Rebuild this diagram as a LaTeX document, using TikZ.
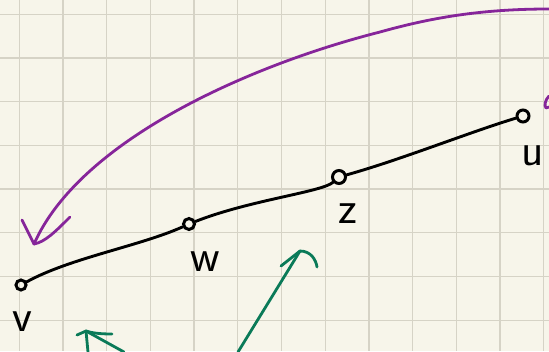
\documentclass[tikz,border=0pt]{standalone}
\usepackage{tikz}
\usetikzlibrary{calc,positioning}
\definecolor{paper}{HTML}{F7F5EA}
\definecolor{gridgray}{HTML}{D6D3C6}
\definecolor{penpurple}{HTML}{86259A}
\definecolor{pengreen}{HTML}{0A7A58}
\tikzset{
	gridline/.style={gridgray,line width=1.3pt},
	ink/.style={black,line width=2.9pt,line cap=round,line join=round},
	purpleink/.style={penpurple,line width=2.8pt,line cap=round,line join=round},
	greenink/.style={pengreen,line width=2.8pt,line cap=round,line join=round},
	vtx/.style={circle,draw=black,line width=3pt,inner sep=0pt,minimum size=11pt},
	vlabel/.style={font=\sffamily\fontsize{46}{46}\selectfont,inner sep=0pt}
}

\begin{document}
\begin{tikzpicture}[x=1pt,y=-1pt]
		
		% -------------------------------------------------
		% 1. Paper and grid
		% -------------------------------------------------
		\fill[paper] (0,0) rectangle (549,351);
		\useasboundingbox (0,0) rectangle (549,351);
		\foreach \gx in {0,...,12}
		\draw[gridline] (19.3+43.7*\gx,0) -- (19.3+43.7*\gx,351);
		\foreach \gy in {0,...,7}
		\draw[gridline] (0,14.3+43.7*\gy) -- (549,14.3+43.7*\gy);
		
		% -------------------------------------------------
		% 2. Vertices
		% -------------------------------------------------
		\node[vtx,minimum size=10pt] (v) at (21,285) {};
		\node[vtx] (w) at (189,224) {};
		\node[vtx,minimum size=13pt] (z) at (339,177) {};
		\node[vtx,minimum size=12pt] (u) at (523,116) {};
		
		\node[vlabel] (lv) at (22,322) {v};
		\node[vlabel] (lw) at (205,262) {w};
		\node[vlabel] (lz) at (348,214) {z};
		\node[vlabel] (lu) at (533,156) {u};
		
		% -------------------------------------------------
		% 3. Path v -- w -- z -- u
		% -------------------------------------------------
		\draw[ink] (v) .. controls (70,258) and (140,246) .. (w);
		\draw[ink] (w) .. controls (250,200) and (322,192) .. (z);
		\draw[ink] (z) .. controls (400,160) and (470,132) .. (u);
		
		% -------------------------------------------------
		% 4. Purple arrow
		% -------------------------------------------------
		\coordinate (ptop) at (549,9);
		\coordinate (ptip) at (34,244);
		\draw[purpleink] (ptop) .. controls (480,9) and (430,18) .. (380,32)
		.. controls (250,65) and (80,140) .. (ptip);
		\draw[purpleink] (22,220) -- (ptip);
		\draw[purpleink] (70,217) .. controls (55,232) and (45,242) .. (ptip);
		\draw[purpleink] (549,96) .. controls (545,100) and (544,106) .. (546,108) -- (549,107);
		
		% -------------------------------------------------
		% 5. Green arrows
		% -------------------------------------------------
		\coordinate (gtail) at (238,352);
		\coordinate (gtip) at (300,251);
		\draw[greenink] (gtail) -- (gtip);
		\draw[greenink] (281,266) -- (gtip) .. controls (311,251) and (316,260) .. (317,267);
		
		\coordinate (htail) at (124,352);
		\coordinate (htip) at (86,331);
		\draw[greenink] (htail) -- (htip);
		\draw[greenink] (77,335) -- (htip) .. controls (92,333) and (100,334) .. (112,334);
		\draw[greenink] (htip) -- (88,352);
		
	\end{tikzpicture}
\end{document}
